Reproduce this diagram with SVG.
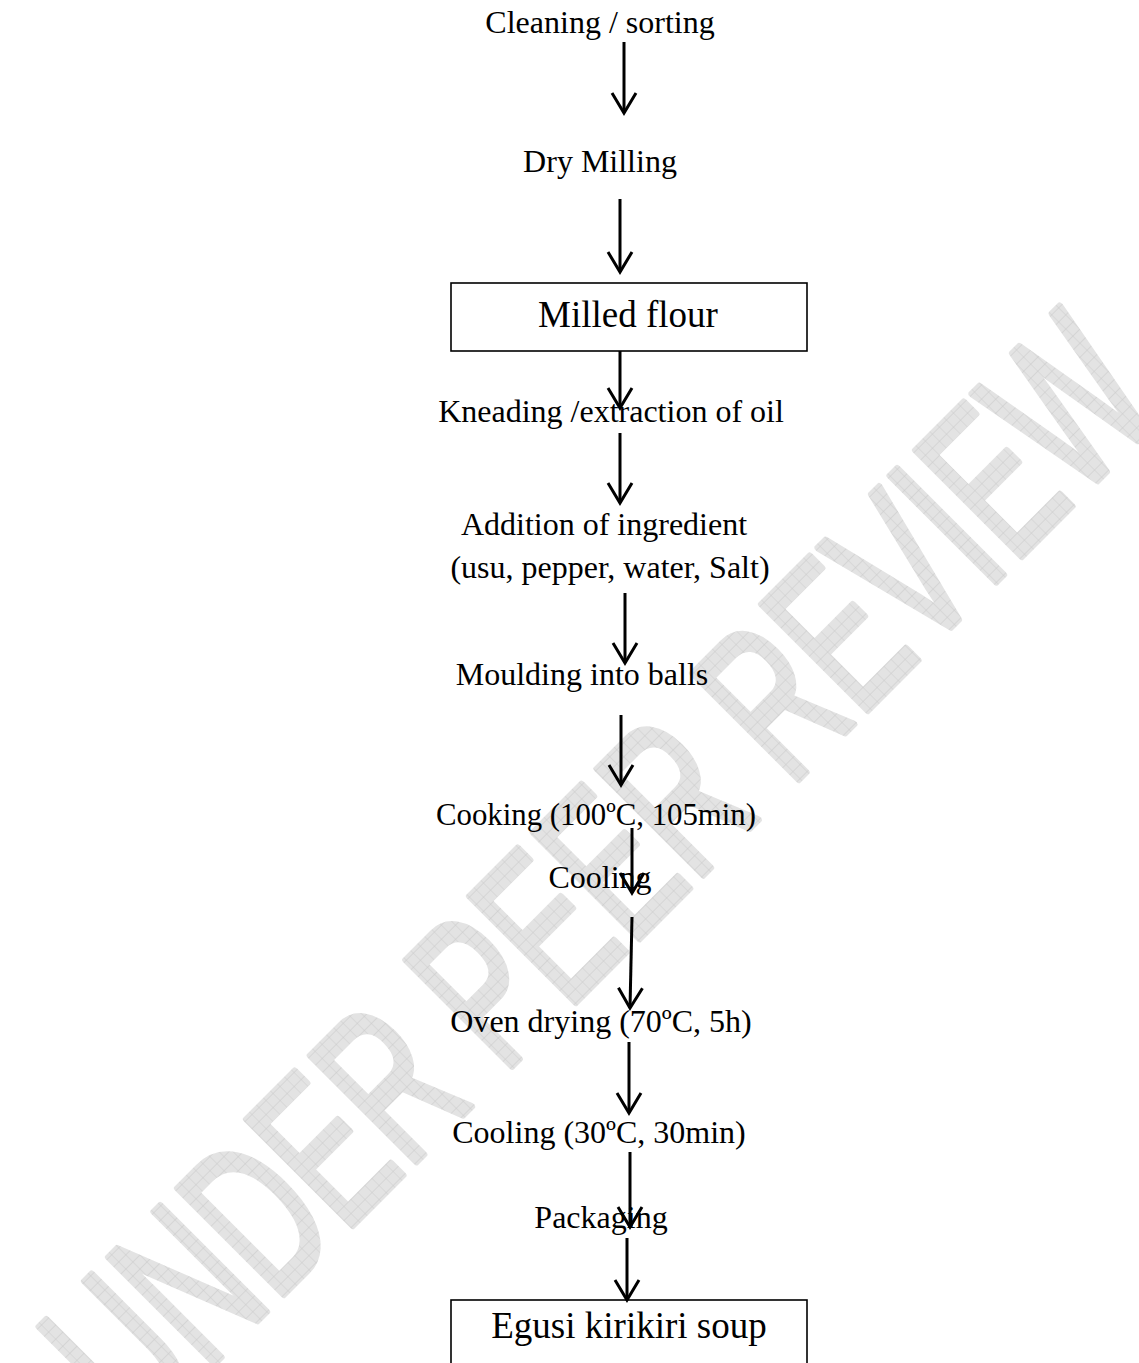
<svg xmlns="http://www.w3.org/2000/svg" width="1139" height="1363" viewBox="0 0 1139 1363">
  <style>
    .lbl { font-family: "Liberation Serif", "Times New Roman", serif; font-size: 32px; fill: #000; text-anchor: middle; }
    .big { font-size: 37px; }
    .box { fill: none; stroke: #000; stroke-width: 1.6; }
    .arr { fill: none; stroke: #000; stroke-width: 3; marker-end: url(#head); }
    .wm { font-family: "Liberation Sans", Arial, sans-serif; font-weight: normal; font-size: 218px; text-anchor: middle; fill: url(#hatch); stroke: url(#hatch); stroke-width: 7; stroke-linejoin: round; stroke-linecap: round; }
  </style>
  <defs>
    <pattern id="hatch" patternUnits="userSpaceOnUse" width="16" height="10">
      <rect width="16" height="10" fill="#e3e3e3"/>
      <path d="M0,0 H16 M0,0 V10" stroke="#c8c8c8" stroke-width="1.2" fill="none"/>
    </pattern>
    <marker id="head" markerUnits="userSpaceOnUse" viewBox="-24 -16 28 32" markerWidth="28" markerHeight="32" refX="0" refY="0" orient="auto">
      <path d="M-20,-12 L0,0 L-20,12" fill="none" stroke="#000" stroke-width="3"/>
    </marker>
  </defs>
  <rect width="1139" height="1363" fill="#fff"/>

  <g id="watermark">
    <text class="wm" transform="translate(652,926) rotate(-45) scale(0.62,1)">UNDER PEER REVIEW</text>
  </g>

  <g id="connectors">
    <line class="arr" x1="624" y1="42" x2="624" y2="113"/>
    <line class="arr" x1="620" y1="199" x2="620" y2="272"/>
    <line class="arr" x1="620" y1="351" x2="620" y2="408"/>
    <line class="arr" x1="620" y1="433" x2="620" y2="503"/>
    <line class="arr" x1="625" y1="593" x2="625" y2="663"/>
    <line class="arr" x1="621" y1="715" x2="621" y2="785"/>
    <line class="arr" x1="632" y1="828" x2="632" y2="893"/>
    <line class="arr" x1="632" y1="917" x2="630" y2="1008"/>
    <line class="arr" x1="629" y1="1042" x2="629" y2="1113"/>
    <line class="arr" x1="630" y1="1152" x2="630" y2="1227"/>
    <line class="arr" x1="627" y1="1238" x2="627" y2="1300"/>
  </g>

  <g id="cleaning"><text class="lbl" x="600" y="33">Cleaning / sorting</text></g>
  <g id="dry-milling"><text class="lbl" x="600" y="172">Dry Milling</text></g>
  <g id="milled-flour">
    <rect class="box" x="451" y="283" width="356" height="68"/>
    <text class="lbl big" x="628" y="327">Milled flour</text>
  </g>
  <g id="kneading"><text class="lbl" x="611" y="422">Kneading /extraction of oil</text></g>
  <g id="addition">
    <text class="lbl" x="604" y="535">Addition of ingredient</text>
    <text class="lbl" x="610" y="578">(usu, pepper, water, Salt)</text>
  </g>
  <g id="moulding"><text class="lbl" x="582" y="685">Moulding into balls</text></g>
  <g id="cooking"><text class="lbl" x="596" y="825" textLength="320" lengthAdjust="spacingAndGlyphs">Cooking (100ºC, 105min)</text></g>
  <g id="cooling1"><text class="lbl" x="600" y="888">Cooling</text></g>
  <g id="oven-drying"><text class="lbl" x="601" y="1032">Oven drying (70ºC, 5h)</text></g>
  <g id="cooling2"><text class="lbl" x="599" y="1143">Cooling (30ºC, 30min)</text></g>
  <g id="packaging"><text class="lbl" x="601" y="1228">Packaging</text></g>
  <g id="egusi">
    <rect class="box" x="451" y="1300" width="356" height="100"/>
    <text class="lbl big" x="629" y="1338">Egusi kirikiri soup</text>
  </g>
</svg>
